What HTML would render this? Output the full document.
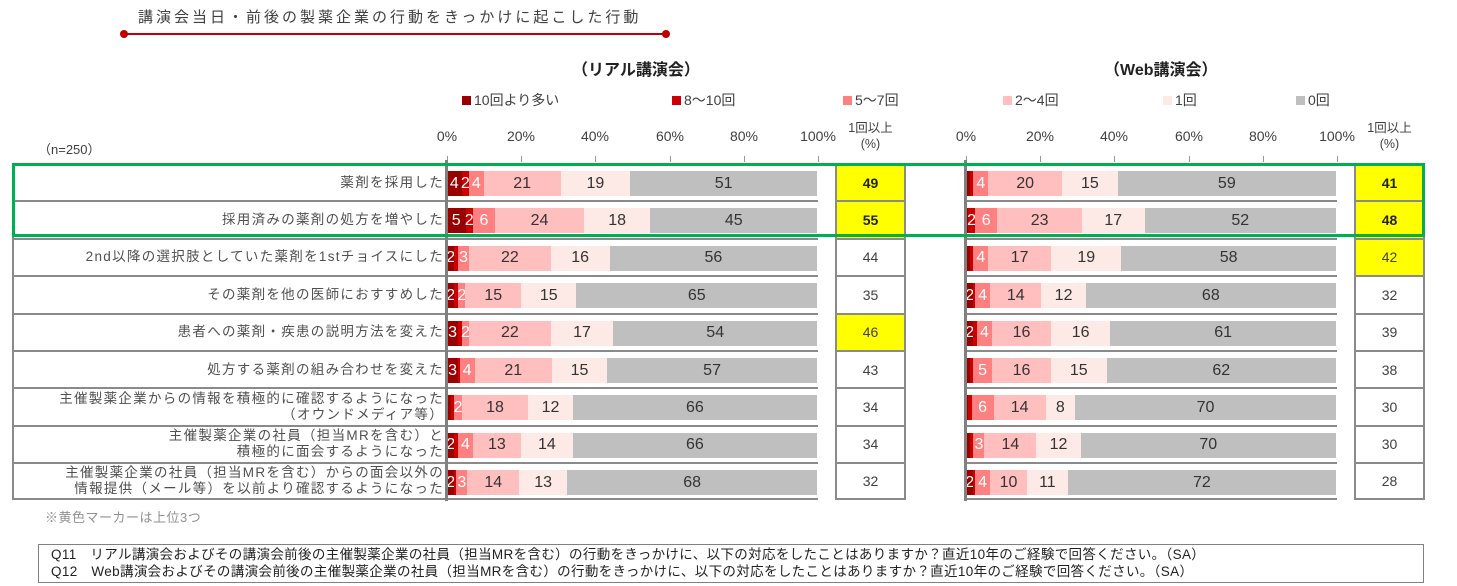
<!DOCTYPE html>
<html><head><meta charset="utf-8"><style>
*{margin:0;padding:0;box-sizing:border-box}
body{width:1457px;height:586px;background:#fff;position:relative;overflow:hidden;font-family:"Liberation Sans","Noto Sans CJK JP",sans-serif;color:#404040}
.a{position:absolute}
.row{position:absolute;left:0;width:1457px;height:37.4px}
.lab{position:absolute;left:12px;width:434px;top:0;height:100%;border-top:2px solid #8a8a8a;border-left:2px solid #8a8a8a;display:flex;align-items:center;justify-content:flex-end;text-align:right;font-size:13.5px;line-height:16px;padding-right:2px;letter-spacing:1.3px;color:#505050;white-space:nowrap}
.bl,.br{position:absolute;top:0;height:100%;width:372px;border-top:2px solid #8a8a8a}
.bl{left:446px}.br{left:965px}
.bar{position:absolute;left:1px;right:1px;top:6px;height:25px;display:flex}
.bar div{height:100%;display:flex;align-items:center;justify-content:center;font-size:16px;overflow:visible;white-space:nowrap;color:#333}
.s1{background:#990000;color:#fff!important}.s2{background:#cc0000;color:#fff!important}.s3{background:#ff8080;color:#fff!important}.s4{background:#ffbfbf}.s5{background:#fde9e6}.s6{background:#bfbfbf}
.bxl,.bxr{position:absolute;top:0;height:100%;width:71px;border-top:2px solid #8a8a8a;border-left:2px solid #8a8a8a;border-right:2px solid #8a8a8a;display:flex;align-items:center;justify-content:center;font-size:14px;color:#404040}
.bxl{left:835px}.bxr{left:1354px}
.y{background:#ffff00}.b{font-weight:bold;color:#222}
.ax{position:absolute;top:128px;font-size:14px;color:#404040;transform:translateX(-50%)}
.tk{position:absolute;top:156px;width:1px;height:6px;background:#999}
.lg{position:absolute;top:90px;font-size:14px;color:#404040;display:flex;align-items:center}
.lg i{display:inline-block;width:9px;height:9px;margin-right:3px}
</style></head><body>
<div class="a" style="left:138px;top:6px;font-size:15px;color:#404040;letter-spacing:3px">講演会当日・前後の製薬企業の行動をきっかけに起こした行動</div>
<div class="a" style="left:124px;top:33px;width:542px;height:2px;background:#c00000"></div>
<div class="a" style="left:120px;top:30px;width:8px;height:8px;border-radius:50%;background:#c00000"></div>
<div class="a" style="left:662px;top:30px;width:8px;height:8px;border-radius:50%;background:#c00000"></div>
<div class="a" style="left:572px;top:56px;font-size:16px;font-weight:bold;color:#222">（リアル講演会）</div>
<div class="a" style="left:1104px;top:56px;font-size:16px;font-weight:bold;color:#222">（Web講演会）</div>
<div class="lg" style="left:462px"><i style="background:#990000"></i>10回より多い</div>
<div class="lg" style="left:672px"><i style="background:#cc0000"></i>8～10回</div>
<div class="lg" style="left:843px"><i style="background:#ff8080"></i>5～7回</div>
<div class="lg" style="left:1003px"><i style="background:#ffbfbf"></i>2～4回</div>
<div class="lg" style="left:1163px"><i style="background:#fde9e6"></i>1回</div>
<div class="lg" style="left:1296px"><i style="background:#bfbfbf"></i>0回</div>
<div class="a" style="left:38px;top:139px;font-size:13px">（n=250）</div>
<div class="ax" style="left:447px">0%</div><div class="ax" style="left:521px">20%</div><div class="ax" style="left:595px">40%</div><div class="ax" style="left:670px">60%</div><div class="ax" style="left:744px">80%</div><div class="ax" style="left:818px">100%</div>
<div class="ax" style="left:966px">0%</div><div class="ax" style="left:1040px">20%</div><div class="ax" style="left:1114px">40%</div><div class="ax" style="left:1189px">60%</div><div class="ax" style="left:1263px">80%</div><div class="ax" style="left:1337px">100%</div>
<div class="tk" style="left:447px"></div><div class="tk" style="left:521px"></div><div class="tk" style="left:595px"></div><div class="tk" style="left:670px"></div><div class="tk" style="left:744px"></div><div class="tk" style="left:818px"></div>
<div class="tk" style="left:966px"></div><div class="tk" style="left:1040px"></div><div class="tk" style="left:1114px"></div><div class="tk" style="left:1189px"></div><div class="tk" style="left:1263px"></div><div class="tk" style="left:1337px"></div>
<div class="a" style="left:835px;top:120px;width:71px;text-align:center;font-size:12.5px;line-height:16px">1回以上<br>(%)</div>
<div class="a" style="left:1354px;top:120px;width:71px;text-align:center;font-size:12.5px;line-height:16px">1回以上<br>(%)</div>

<div class="row" style="top:163px"><div class="lab">薬剤を採用した</div>
<div class="bl"><div class="bar"><div class="s1" style="width:4%">4</div><div class="s2" style="width:2%">2</div><div class="s3" style="width:4%">4</div><div class="s4" style="width:21%">21</div><div class="s5" style="width:19%">19</div><div class="s6" style="width:51%">51</div></div></div>
<div class="bxl y b">49</div>
<div class="br"><div class="bar"><div class="s1" style="width:1%"></div><div class="s2" style="width:1%"></div><div class="s3" style="width:4%">4</div><div class="s4" style="width:20%">20</div><div class="s5" style="width:15%">15</div><div class="s6" style="width:59%">59</div></div></div>
<div class="bxr y b">41</div></div>

<div class="row" style="top:200.4px"><div class="lab">採用済みの薬剤の処方を増やした</div>
<div class="bl"><div class="bar"><div class="s1" style="width:5%">5</div><div class="s2" style="width:2%">2</div><div class="s3" style="width:6%">6</div><div class="s4" style="width:24%">24</div><div class="s5" style="width:18%">18</div><div class="s6" style="width:45%">45</div></div></div>
<div class="bxl y b">55</div>
<div class="br"><div class="bar"><div class="s1" style="width:0.5%"></div><div class="s2" style="width:2%">2</div><div class="s3" style="width:6%">6</div><div class="s4" style="width:23%">23</div><div class="s5" style="width:17%">17</div><div class="s6" style="width:52%">52</div></div></div>
<div class="bxr y b">48</div></div>

<div class="row" style="top:237.8px"><div class="lab">2nd以降の選択肢としていた薬剤を1stチョイスにした</div>
<div class="bl"><div class="bar"><div class="s1" style="width:2%">2</div><div class="s2" style="width:1%"></div><div class="s3" style="width:3%">3</div><div class="s4" style="width:22%">22</div><div class="s5" style="width:16%">16</div><div class="s6" style="width:56%">56</div></div></div>
<div class="bxl">44</div>
<div class="br"><div class="bar"><div class="s1" style="width:1%"></div><div class="s2" style="width:1%"></div><div class="s3" style="width:4%">4</div><div class="s4" style="width:17%">17</div><div class="s5" style="width:19%">19</div><div class="s6" style="width:58%">58</div></div></div>
<div class="bxr y">42</div></div>

<div class="row" style="top:275.2px"><div class="lab">その薬剤を他の医師におすすめした</div>
<div class="bl"><div class="bar"><div class="s1" style="width:2%">2</div><div class="s2" style="width:1%"></div><div class="s3" style="width:2%">2</div><div class="s4" style="width:15%">15</div><div class="s5" style="width:15%">15</div><div class="s6" style="width:65%">65</div></div></div>
<div class="bxl">35</div>
<div class="br"><div class="bar"><div class="s1" style="width:2%">2</div><div class="s2" style="width:0.5%"></div><div class="s3" style="width:4%">4</div><div class="s4" style="width:14%">14</div><div class="s5" style="width:12%">12</div><div class="s6" style="width:68%">68</div></div></div>
<div class="bxr">32</div></div>

<div class="row" style="top:312.6px"><div class="lab">患者への薬剤・疾患の説明方法を変えた</div>
<div class="bl"><div class="bar"><div class="s1" style="width:3%">3</div><div class="s2" style="width:1%"></div><div class="s3" style="width:2%">2</div><div class="s4" style="width:22%">22</div><div class="s5" style="width:17%">17</div><div class="s6" style="width:55%">54</div></div></div>
<div class="bxl y">46</div>
<div class="br"><div class="bar"><div class="s1" style="width:2%">2</div><div class="s2" style="width:1%"></div><div class="s3" style="width:4%">4</div><div class="s4" style="width:16%">16</div><div class="s5" style="width:16%">16</div><div class="s6" style="width:61%">61</div></div></div>
<div class="bxr">39</div></div>

<div class="row" style="top:350px"><div class="lab">処方する薬剤の組み合わせを変えた</div>
<div class="bl"><div class="bar"><div class="s1" style="width:3%">3</div><div class="s2" style="width:0.5%"></div><div class="s3" style="width:4%">4</div><div class="s4" style="width:21%">21</div><div class="s5" style="width:15%">15</div><div class="s6" style="width:57%">57</div></div></div>
<div class="bxl">43</div>
<div class="br"><div class="bar"><div class="s1" style="width:1%"></div><div class="s2" style="width:1%"></div><div class="s3" style="width:5%">5</div><div class="s4" style="width:16%">16</div><div class="s5" style="width:15%">15</div><div class="s6" style="width:62%">62</div></div></div>
<div class="bxr">38</div></div>

<div class="row" style="top:387.4px"><div class="lab">主催製薬企業からの情報を積極的に確認するようになった<br>（オウンドメディア等）</div>
<div class="bl"><div class="bar"><div class="s1" style="width:1%"></div><div class="s2" style="width:1%"></div><div class="s3" style="width:2%">2</div><div class="s4" style="width:18%">18</div><div class="s5" style="width:12%">12</div><div class="s6" style="width:66%">66</div></div></div>
<div class="bxl">34</div>
<div class="br"><div class="bar"><div class="s1" style="width:0.5%"></div><div class="s2" style="width:1%"></div><div class="s3" style="width:6%">6</div><div class="s4" style="width:14%">14</div><div class="s5" style="width:8%">8</div><div class="s6" style="width:70.5%">70</div></div></div>
<div class="bxr">30</div></div>

<div class="row" style="top:424.8px"><div class="lab">主催製薬企業の社員（担当MRを含む）と<br>積極的に面会するようになった</div>
<div class="bl"><div class="bar"><div class="s1" style="width:2%">2</div><div class="s2" style="width:1%"></div><div class="s3" style="width:4%">4</div><div class="s4" style="width:13%">13</div><div class="s5" style="width:14%">14</div><div class="s6" style="width:66%">66</div></div></div>
<div class="bxl">34</div>
<div class="br"><div class="bar"><div class="s1" style="width:1%"></div><div class="s2" style="width:1%"></div><div class="s3" style="width:3%">3</div><div class="s4" style="width:14%">14</div><div class="s5" style="width:12%">12</div><div class="s6" style="width:69%">70</div></div></div>
<div class="bxr">30</div></div>

<div class="row" style="top:462.2px"><div class="lab" style="border-bottom:2px solid #8a8a8a">主催製薬企業の社員（担当MRを含む）からの面会以外の<br>情報提供（メール等）を以前より確認するようになった</div>
<div class="bl" style="border-bottom:2px solid #8a8a8a"><div class="bar"><div class="s1" style="width:2%">2</div><div class="s2" style="width:0.5%"></div><div class="s3" style="width:3%">3</div><div class="s4" style="width:14%">14</div><div class="s5" style="width:13%">13</div><div class="s6" style="width:67.5%">68</div></div></div>
<div class="bxl" style="border-bottom:2px solid #8a8a8a">32</div>
<div class="br" style="border-bottom:2px solid #8a8a8a"><div class="bar"><div class="s1" style="width:2%">2</div><div class="s2" style="width:0.5%"></div><div class="s3" style="width:4%">4</div><div class="s4" style="width:10%">10</div><div class="s5" style="width:11%">11</div><div class="s6" style="width:72.5%">72</div></div></div>
<div class="bxr" style="border-bottom:2px solid #8a8a8a">28</div></div>

<div class="a" style="left:445px;top:160px;width:3px;height:341px;background:#808080"></div>
<div class="a" style="left:964px;top:160px;width:3px;height:341px;background:#808080"></div>
<div class="a" style="left:12px;top:163px;width:1413px;height:74px;border:3px solid #00b050"></div>

<div class="a" style="left:45px;top:507px;font-size:13px;color:#909090;letter-spacing:0.5px">※黄色マーカーは上位3つ</div>
<div class="a" style="left:38px;top:544px;width:1386px;height:39px;border:1px solid #808080;padding:1px 0 0 12px;font-size:13.5px;line-height:17px;color:#222;letter-spacing:0.35px;white-space:nowrap">Q11　リアル講演会およびその講演会前後の主催製薬企業の社員（担当MRを含む）の行動をきっかけに、以下の対応をしたことはありますか？直近10年のご経験で回答ください。（SA）<br>Q12　Web講演会およびその講演会前後の主催製薬企業の社員（担当MRを含む）の行動をきっかけに、以下の対応をしたことはありますか？直近10年のご経験で回答ください。（SA）</div>
</body></html>
